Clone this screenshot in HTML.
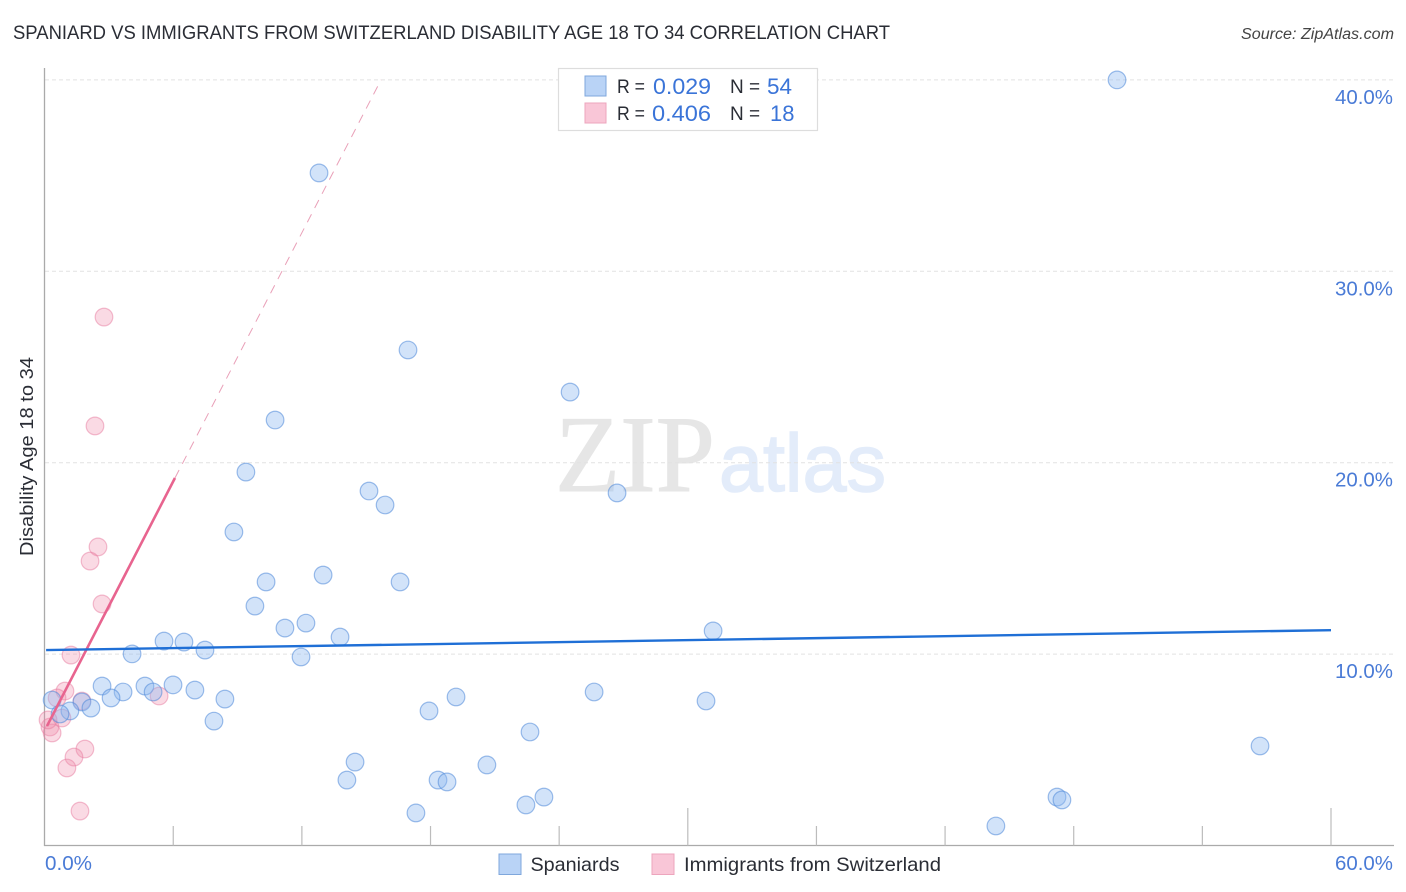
<!DOCTYPE html>
<html lang="en">
<head>
<meta charset="utf-8">
<title>Spaniard vs Immigrants from Switzerland Disability Age 18 to 34 Correlation Chart</title>
<style>
html,body{margin:0;padding:0;background:#fff;width:1406px;height:892px;overflow:hidden}
svg{display:block;font-family:"Liberation Sans",sans-serif}
</style>
</head>
<body>
<svg id="chart" width="1406" height="892" viewBox="0 0 1406 892" xmlns="http://www.w3.org/2000/svg">
  <rect width="1406" height="892" fill="#ffffff"/>
  <text x="13" y="39" font-size="19.5" fill="#2a2d35" textLength="877" lengthAdjust="spacingAndGlyphs">SPANIARD VS IMMIGRANTS FROM SWITZERLAND DISABILITY AGE 18 TO 34 CORRELATION CHART</text>
  <text x="1241" y="39" font-size="15.5" font-style="italic" fill="#444" textLength="153" lengthAdjust="spacingAndGlyphs">Source: ZipAtlas.com</text>

  <g>
    <text x="555" y="491" font-family="'Liberation Serif',serif" font-size="109" fill="#e6e6e6" stroke="#e6e6e6" stroke-width="1" textLength="160" lengthAdjust="spacingAndGlyphs">ZIP</text>
    <text x="719" y="491" font-size="82" fill="#e3ecfa" stroke="#e3ecfa" stroke-width="1.5" textLength="167" lengthAdjust="spacingAndGlyphs">atlas</text>
  </g>

  <g id="grid"></g>
  <g id="axes"></g>
  <g id="pinkPoints"></g>
  <g id="bluePoints"></g>
  <g id="trends"></g>

  <text transform="translate(33,456.5) rotate(-90)" font-size="18.5" fill="#2a2d35" text-anchor="middle" textLength="199" lengthAdjust="spacingAndGlyphs">Disability Age 18 to 34</text>

  <g>
    <rect x="558.5" y="68.5" width="259" height="62" fill="#ffffff" stroke="#dddddd" stroke-width="1.2"/>
    <rect x="585" y="76" width="21" height="20" fill="#b9d3f6" stroke="#7fa7dc" stroke-width="1"/>
    <rect x="585" y="103" width="21" height="20" fill="#f9c6d7" stroke="#eda5bd" stroke-width="1"/>
    <text x="617" y="93" font-size="19" fill="#2a2d35" textLength="28" lengthAdjust="spacingAndGlyphs">R =</text>
    <text x="653" y="94" font-size="22" fill="#3a74d8" textLength="58" lengthAdjust="spacingAndGlyphs">0.029</text>
    <text x="730" y="93" font-size="19" fill="#2a2d35">N =</text>
    <text x="767" y="94" font-size="22" fill="#3a74d8" textLength="25" lengthAdjust="spacingAndGlyphs">54</text>
    <text x="617" y="120" font-size="19" fill="#2a2d35" textLength="28" lengthAdjust="spacingAndGlyphs">R =</text>
    <text x="652" y="121" font-size="22" fill="#3a74d8" textLength="59" lengthAdjust="spacingAndGlyphs">0.406</text>
    <text x="730" y="120" font-size="19" fill="#2a2d35">N =</text>
    <text x="770" y="121" font-size="22" fill="#3a74d8">18</text>
  </g>

  <g>
    <rect x="499" y="854" width="22" height="20.5" fill="#b9d3f6" stroke="#7fa7dc" stroke-width="1"/>
    <text x="530.5" y="871" font-size="19.5" fill="#2a2d35" textLength="89" lengthAdjust="spacingAndGlyphs">Spaniards</text>
    <rect x="652" y="854" width="22" height="20.5" fill="#f9c6d7" stroke="#eda5bd" stroke-width="1"/>
    <text x="684" y="871" font-size="19.5" fill="#2a2d35" textLength="257" lengthAdjust="spacingAndGlyphs">Immigrants from Switzerland</text>
  </g>
</svg>
<script>
const xTickValues = [0, 6, 12, 18, 24, 30, 36, 42, 48, 54, 60];
const xLongTicks = [30, 60];
const xTickLabels = ["0.0%", "60.0%"];
const yTickValues = [10, 20, 30, 40];
const yTickLabels = ["10.0%", "20.0%", "30.0%", "40.0%"];

const spaniardsX = [50.02, 12.80, 16.95, 24.51, 10.75, 9.39, 15.13, 15.88, 26.70, 8.83, 10.33, 12.99, 16.58, 9.81, 11.21, 12.19, 13.78, 31.18, 5.57, 6.50, 7.48, 4.08, 11.96, 2.68, 4.68, 5.99, 3.66, 5.06, 7.01, 3.10, 8.41, 25.63, 19.19, 30.85, 1.74, 2.16, 1.18, 0.35, 0.72, 7.90, 17.93, 22.64, 14.48, 20.63, 56.69, 14.10, 18.35, 18.77, 23.29, 22.45, 17.32, 47.22, 47.45, 44.37];
const spaniardsY = [40.00, 35.14, 25.89, 23.69, 22.23, 19.51, 18.52, 17.79, 18.42, 16.38, 13.77, 14.13, 13.77, 12.51, 11.36, 11.62, 10.89, 11.21, 10.68, 10.63, 10.21, 10.01, 9.85, 8.33, 8.33, 8.39, 8.02, 8.02, 8.12, 7.71, 7.65, 8.02, 7.76, 7.55, 7.50, 7.18, 7.03, 7.60, 6.87, 6.50, 7.03, 5.93, 4.36, 4.21, 5.20, 3.42, 3.42, 3.32, 2.53, 2.12, 1.70, 2.53, 2.38, 1.02];

const immigrantsX = [2.77, 2.35, 2.49, 2.12, 2.68, 1.23, 0.95, 0.58, 1.74, 5.34, 0.81, 0.25, 0.35, 0.16, 1.88, 1.37, 1.04, 1.65];
const immigrantsY = [27.61, 21.92, 15.60, 14.86, 12.62, 9.95, 8.07, 7.71, 7.55, 7.81, 6.66, 6.19, 5.88, 6.56, 5.04, 4.62, 4.05, 1.80];

const spaniardsTrendX = [0.07, 60];
const spaniardsTrendY = [10.21, 11.25];
const immigrantsSolidX = [0.11, 6.08];
const immigrantsSolidY = [6.24, 19.2];
const immigrantsDashX = [6.08, 15.69];
const immigrantsDashY = [19.2, 40];

const NS = "http://www.w3.org/2000/svg";
function xScale(v) { return 44.6 + v * (1331 - 44.6) / 60; }
function yScale(v) { return 845.5 - v * 19.14; }
function make(tag, attrs, parent, text) {
  const el = document.createElementNS(NS, tag);
  for (const k in attrs) el.setAttribute(k, attrs[k]);
  if (text !== undefined) el.textContent = text;
  parent.appendChild(el);
  return el;
}

const grid = document.getElementById("grid");
const axes = document.getElementById("axes");
const pinkPoints = document.getElementById("pinkPoints");
const bluePoints = document.getElementById("bluePoints");
const trends = document.getElementById("trends");

yTickValues.forEach(function (v, i) {
  const line = make("line", {x1: 45, x2: 1394, y1: yScale(v), y2: yScale(v), stroke: "#e2e2e2", "stroke-width": 1, "stroke-dasharray": "4 3"}, grid);
  
  
  const label = make("text", {x: 1393, y: yScale(v) + 24, "font-size": 20, fill: "#4a7bd6", "text-anchor": "end", textLength: 58, lengthAdjust: "spacingAndGlyphs"}, axes, yTickLabels[i]);
  
  
});

const yAxisLine = make("line", {x1: 44.5, x2: 44.5, y1: 68, y2: 846, stroke: "#aaaaaa", "stroke-width": 1.3}, axes);


const xAxisLine = make("line", {x1: 44, x2: 1394, y1: 845.5, y2: 845.5, stroke: "#aaaaaa", "stroke-width": 1.3}, axes);



xTickValues.forEach(function (v) {
  if (v === 0) return;
  const top = xLongTicks.indexOf(v) >= 0 ? 808 : 826;
  const tick = make("line", {x1: xScale(v), x2: xScale(v), y1: top, y2: 845.5, stroke: "#bcbcbc", "stroke-width": 1.2}, axes);
  
  
});

const xLabelMin = make("text", {x: 45, y: 870, "font-size": 20, fill: "#4a7bd6", textLength: 47, lengthAdjust: "spacingAndGlyphs"}, axes, xTickLabels[0]);


const xLabelMax = make("text", {x: 1393, y: 870, "font-size": 20, fill: "#4a7bd6", "text-anchor": "end", textLength: 58, lengthAdjust: "spacingAndGlyphs"}, axes, xTickLabels[1]);



immigrantsX.forEach(function (v, i) {
  const c = make("circle", {cx: xScale(v), cy: yScale(immigrantsY[i]), r: 8.8, fill: "#f08cab", "fill-opacity": 0.32, stroke: "#e77c9f", "stroke-opacity": 0.5, "stroke-width": 1.2}, pinkPoints);
  
  
});

spaniardsX.forEach(function (v, i) {
  const c = make("circle", {cx: xScale(v), cy: yScale(spaniardsY[i]), r: 8.8, fill: "#8fb8ef", "fill-opacity": 0.4, stroke: "#4f88d8", "stroke-opacity": 0.55, "stroke-width": 1.2}, bluePoints);
  
  
});

const pinkDash = make("line", {x1: xScale(immigrantsDashX[0]), y1: yScale(immigrantsDashY[0]), x2: xScale(immigrantsDashX[1]), y2: yScale(immigrantsDashY[1]), stroke: "#e9a0b8", "stroke-width": 1, "stroke-dasharray": "9 7"}, trends);


const pinkSolid = make("line", {x1: xScale(immigrantsSolidX[0]), y1: yScale(immigrantsSolidY[0]), x2: xScale(immigrantsSolidX[1]), y2: yScale(immigrantsSolidY[1]), stroke: "#e8648f", "stroke-width": 2.6}, trends);


const blueTrend = make("line", {x1: xScale(spaniardsTrendX[0]), y1: yScale(spaniardsTrendY[0]), x2: xScale(spaniardsTrendX[1]), y2: yScale(spaniardsTrendY[1]), stroke: "#1f6fd6", "stroke-width": 2.4}, trends);


</script>
</body>
</html>
